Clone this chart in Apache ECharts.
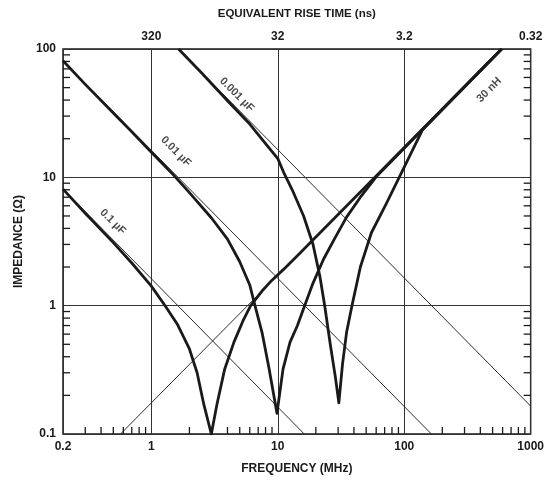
<!DOCTYPE html>
<html>
  <head>
    <meta charset="utf-8" />
    <title>Decoupling capacitor impedance</title>
    <script src="https://cdn.jsdelivr.net/npm/echarts@6/dist/echarts.min.js"></script>
    <style>
      html, body { margin: 0; padding: 0; background: #fff; }
    </style>
  </head>
  <body>
    <div id="main" style="width: 547px; height: 480px"></div>
    <script type="text/javascript">
      // axis ticks
      var freqTicks = [0.2, 1, 10, 100, 1000];
      var riseTimeLabels = ["", "320", "32", "3.2", "0.32"];
      var impTicks = [0.1, 1, 10, 100];
      var freqMinor = [0.3, 0.4, 0.5, 0.6, 0.7, 0.8, 0.9, 2, 3, 4, 5, 6, 7, 8, 9,
        20, 30, 40, 50, 60, 70, 80, 90, 200, 300, 400, 500, 600, 700, 800, 900];
      var impMinor = [0.2, 0.3, 0.4, 0.5, 0.6, 0.7, 0.8, 0.9, 2, 3, 4, 5, 6, 7, 8, 9,
        20, 30, 40, 50, 60, 70, 80, 90];

      // thin asymptotes [MHz, ohm]
      var line01uF = [[0.2, 8.1], [16.2, 0.1]];
      var line001uF = [[0.2, 81], [164, 0.1]];
      var line0001uF = [[1.64, 100], [1000, 0.165]];
      var line30nH = [[0.57, 0.1], [590, 100]];

      // bold impedance curves [MHz, ohm]
      var curve01uF = [[0.2, 8.1], [0.3, 5.25], [0.5, 3.1], [0.7, 2.15], [1, 1.42],
        [1.3, 0.98], [1.6, 0.72], [2, 0.46], [2.3, 0.3], [2.6, 0.17], [2.98, 0.1],
        [3.3, 0.17], [3.8, 0.32], [4.5, 0.52], [5.3, 0.76], [6.1, 1.0], [7.5, 1.3],
        [9, 1.58], [11, 1.9], [15, 2.57], [590, 100]];
      var curve001uF = [[0.2, 81], [0.3, 53], [0.5, 31.7], [0.7, 22.6], [1, 15.7],
        [1.5, 10.4], [2, 7.6], [3, 4.8], [4, 3.3], [5, 2.2], [6, 1.45], [6.6, 1.0],
        [7.5, 0.62], [8.5, 0.33], [9.85, 0.145], [11, 0.32], [12.5, 0.52], [14.3, 0.7],
        [16.3, 1.0], [19, 1.5], [23, 2.3], [28, 3.3], [35, 4.9], [45, 7.0], [60, 10.1],
        [590, 100]];
      var curve0001uF = [[1.64, 100], [2.5, 65], [4, 39.5], [6, 26], [8, 18.3],
        [10, 14], [11.1, 11], [13, 8], [16, 5], [19, 3], [21.5, 1.7], [23.5, 1.0],
        [26, 0.5], [28.5, 0.28], [30.4, 0.175], [32.5, 0.35], [35, 0.62], [38.6, 1.0],
        [45, 2.0], [55, 3.7], [72, 6.2], [100, 12], [140, 23.6], [590, 100]];

      var font = "'Liberation Sans', Arial, sans-serif";
      var ink = "#1a1a1a";

      function near(v, list) {
        for (var i = 0; i < list.length; i++) {
          if (Math.abs(Math.log10(v) - Math.log10(list[i])) < 0.01) return i;
        }
        return -1;
      }

      function thin(data) {
        return {
          type: "line", data: data, symbol: "none", silent: true, z: 3,
          lineStyle: { color: "#2a2a2a", width: 1 }
        };
      }
      function bold(data) {
        return {
          type: "line", data: data, symbol: "none", silent: true, z: 4,
          lineStyle: { color: ink, width: 2.8, join: "round" }
        };
      }
      function tag(text, at, angle) {
        return {
          type: "scatter", data: [at], symbolSize: 0, silent: true, z: 6,
          label: {
            show: true, formatter: text, position: "inside", rotate: angle,
            color: ink, fontFamily: font, fontWeight: "bold", fontSize: 11
          }
        };
      }

      var myChart = echarts.init(document.getElementById("main"));

      var axisText = { color: ink, fontFamily: font, fontWeight: "bold", fontSize: 12 };

      var option = {
        animation: false,
        backgroundColor: "#fff",
        grid: {
          left: 63, right: 11, top: 49, bottom: 42,
          show: true, borderColor: ink, borderWidth: 1.5
        },
        xAxis: [
          {
            type: "log", logBase: 10, min: 0.2, max: 1000, position: "bottom",
            name: "FREQUENCY (MHz)", nameLocation: "middle", nameGap: 29,
            nameTextStyle: axisText,
            axisLine: { show: false }, axisTick: { show: false },
            axisLabel: Object.assign({ margin: 7, formatter: function (v) {
              var i = near(v, freqTicks);
              return i < 0 ? "" : String(freqTicks[i]);
            } }, axisText),
            splitLine: { show: true, lineStyle: { color: "#333", width: 1 } }
          },
          {
            type: "log", logBase: 10, min: 0.2, max: 1000, position: "top",
            name: "EQUIVALENT RISE TIME (ns)", nameLocation: "middle", nameGap: 29,
            nameTextStyle: Object.assign({}, axisText, { fontSize: 11.5 }),
            axisLine: { show: false }, axisTick: { show: false },
            axisLabel: Object.assign({ margin: 6, formatter: function (v) {
              var i = near(v, freqTicks);
              return i < 0 ? "" : riseTimeLabels[i];
            } }, axisText),
            splitLine: { show: false }
          }
        ],
        yAxis: {
          type: "log", logBase: 10, min: 0.1, max: 100,
          name: "IMPEDANCE (Ω)", nameLocation: "middle", nameGap: 37,
          nameTextStyle: axisText,
          axisLine: { show: false }, axisTick: { show: false },
          axisLabel: Object.assign({ margin: 7, formatter: function (v) {
            var i = near(v, impTicks);
            return i < 0 ? "" : String(impTicks[i]);
          } }, axisText),
          splitLine: { show: true, lineStyle: { color: "#333", width: 1 } }
        },
        series: [
          thin(line01uF), thin(line001uF), thin(line0001uF), thin(line30nH),
          bold(curve01uF), bold(curve001uF), bold(curve0001uF),
          tag("0.1 µF", [0.495, 4.5], -45),
          tag("0.01 µF", [1.56, 15.9], -45),
          tag("0.001 µF", [4.74, 44], -45),
          tag("30 nH", [470, 48], 45),
          {
            // minor ticks on the impedance axis, both sides
            type: "custom", silent: true, z: 5, clip: false,
            data: impMinor.map(function (v) { return [1, v]; }),
            renderItem: function (params, api) {
              var cs = params.coordSys;
              var y = api.coord([1, api.value(1)])[1];
              var st = { stroke: ink, lineWidth: 1.3 };
              return { type: "group", children: [
                { type: "line", shape: { x1: cs.x, y1: y, x2: cs.x + 7, y2: y }, style: st },
                { type: "line", shape: { x1: cs.x + cs.width - 7, y1: y, x2: cs.x + cs.width, y2: y }, style: st }
              ] };
            }
          },
          {
            // minor ticks on the frequency axis
            type: "custom", silent: true, z: 5, clip: false,
            data: freqMinor.map(function (v) { return [v, 1]; }),
            renderItem: function (params, api) {
              var cs = params.coordSys;
              var x = api.coord([api.value(0), 1])[0];
              var yb = cs.y + cs.height;
              return { type: "line", shape: { x1: x, y1: yb, x2: x, y2: yb - 7 },
                style: { stroke: ink, lineWidth: 1.3 } };
            }
          }
        ]
      };

      myChart.setOption(option);
    </script>
  </body>
</html>
